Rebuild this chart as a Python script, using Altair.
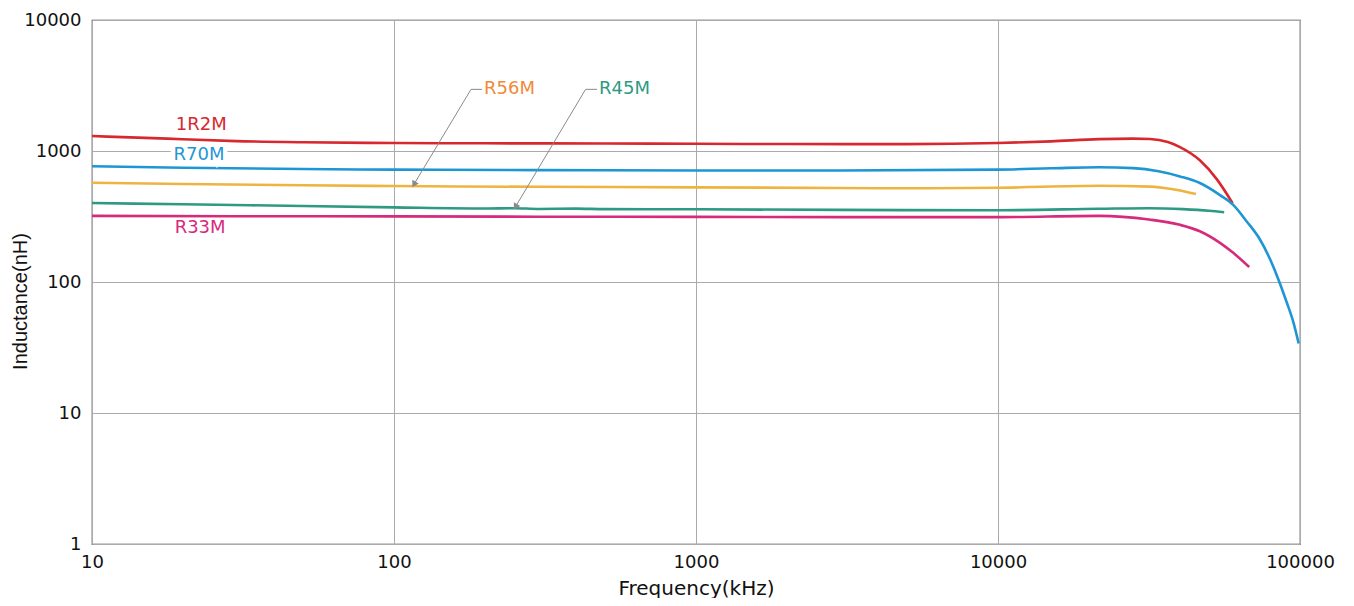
import altair as alt
import pandas as pd

# ---- data ----
red_f = [10, 15, 20, 30, 50, 100, 200, 500, 1000, 2000, 5000, 10000, 15000, 21600, 28000, 31860, 36500, 40050, 46600, 53000, 59800]
red_v = [1300, 1260, 1230, 1190, 1165, 1150, 1145, 1140, 1135, 1130, 1128, 1150, 1185, 1232, 1243, 1235, 1170, 1071, 849, 610, 400]

blue_f = [10, 20, 50, 100, 300, 1000, 3000, 10000, 15000, 21600, 28000, 34000, 40050, 46600, 54330, 60100, 66600, 73700, 79600, 84750, 90350, 95050, 99000]
blue_v = [764, 745, 728, 721, 715, 710, 710, 721, 738, 752, 740, 700, 640, 570, 461, 388, 290, 211, 149, 105, 70, 49.4, 33.9]

orange_f = [10, 20, 50, 100, 300, 1000, 3000, 5000, 10000, 21600, 31860, 38000, 45230]
orange_v = [572, 560, 548, 540, 533, 528, 522, 519, 524, 543, 535, 510, 469]

green_f = [10, 20, 50, 100, 200, 250, 300, 400, 500, 1000, 3000, 10000, 21600, 31600, 41000, 50000, 56100]
green_v = [401, 392, 380, 371, 364, 366, 361, 363, 360, 359, 355, 353, 362, 366, 360, 350, 341]

mag_f = [10, 30, 100, 300, 1000, 3000, 10000, 21600, 31600, 40050, 46600, 54330, 60100, 67900]
mag_v = [320, 318, 317, 315, 314, 313, 313, 320, 300, 273, 244, 199, 167, 130]

series_names = ["1R2M", "R70M", "R56M", "R45M", "R33M"]
line_colors = ["#d7282f", "#1f96d4", "#efb43f", "#2e9a83", "#d62a7d"]
text_colors = ["#d7282f", "#1f96d4", "#f08a3a", "#2e9a83", "#d62a7d"]

# label anchor positions (freq, inductance)
label_f = [23.0, 22.6, 198.6, 477.5, 22.8]
label_v = [1578, 925, 2955, 2955, 258]
label_align = ["center", "center", "left", "left", "center"]

# leader lines for R56M and R45M
leader_name = ["R56M", "R56M", "R56M", "R45M", "R45M", "R45M"]
leader_ord = [0, 1, 2, 0, 1, 2]
leader_f = [195.6, 179.9, 116.9, 470.0, 430.9, 253.5]
leader_v = [2955, 2955, 565, 2955, 2955, 381]

# ---- build tables ----
rows = []
for name, fs, vs in zip(series_names,
                        [red_f, blue_f, orange_f, green_f, mag_f],
                        [red_v, blue_v, orange_v, green_v, mag_v]):
    for f, v in zip(fs, vs):
        rows.append({"series": name, "freq": f, "ind": v})
lines_df = pd.DataFrame(rows)

labels_df = pd.DataFrame({"series": series_names, "freq": label_f, "ind": label_v,
                          "color": text_colors, "align": label_align})
leader_df = pd.DataFrame({"series": leader_name, "ord": leader_ord,
                          "freq": leader_f, "ind": leader_v})
tips_df = leader_df[leader_df["ord"] == 2]

FONT = "DejaVu Sans"

xscale = alt.Scale(type="log", domain=[10, 100000], nice=False)
yscale = alt.Scale(type="log", domain=[1, 10000], nice=False)

xaxis = alt.Axis(values=[10, 100, 1000, 10000, 100000], format="d", title="Frequency(kHz)",
                 grid=True, gridColor="#aaaaaa", gridWidth=1, ticks=False, domain=False,
                 labelFont=FONT, labelFontSize=18, labelColor="#111", labelPadding=9,
                 labelFlush=False, labelOverlap=False,
                 titleFont=FONT, titleFontSize=20, titleFontWeight="normal", titleColor="#111",
                 titlePadding=7)
yaxis = alt.Axis(values=[1, 10, 100, 1000, 10000], format="d", title="Inductance(nH)",
                 grid=True, gridColor="#aaaaaa", gridWidth=1, ticks=False, domain=False,
                 labelFont=FONT, labelFontSize=18, labelColor="#111", labelPadding=11,
                 labelFlush=False, labelOverlap=False,
                 titleFont="Liberation Sans", titleFontSize=20, titleFontWeight="normal",
                 titleColor="#111", titleX=-72, titleY=281, titleAngle=270,
                 titleAlign="center", titleBaseline="middle")

lines = alt.Chart(lines_df).mark_line(strokeWidth=2.6, interpolate="monotone").encode(
    x=alt.X("freq:Q", scale=xscale, axis=xaxis),
    y=alt.Y("ind:Q", scale=yscale, axis=yaxis),
    color=alt.Color("series:N", scale=alt.Scale(domain=series_names, range=line_colors), legend=None),
    detail="series:N",
)

leaders = alt.Chart(leader_df).mark_line(color="#8a8a8a", strokeWidth=1).encode(
    x=alt.X("freq:Q", scale=xscale),
    y=alt.Y("ind:Q", scale=yscale),
    detail="series:N",
    order="ord:Q",
)

tips = alt.Chart(tips_df).mark_point(shape="triangle", filled=True, size=55, angle=210,
                                     color="#8a8a8a", opacity=1).encode(
    x=alt.X("freq:Q", scale=xscale),
    y=alt.Y("ind:Q", scale=yscale),
)

halo = alt.Chart(labels_df[labels_df["series"] == "R70M"]).mark_text(
    font=FONT, fontSize=18, stroke="white", strokeWidth=9, fill="white", align="center", baseline="middle"
).encode(
    x=alt.X("freq:Q", scale=xscale),
    y=alt.Y("ind:Q", scale=yscale),
    text="series:N",
)

texts_c = alt.Chart(labels_df[labels_df["align"] == "center"]).mark_text(
    font=FONT, fontSize=18, align="center", baseline="middle"
).encode(
    x=alt.X("freq:Q", scale=xscale),
    y=alt.Y("ind:Q", scale=yscale),
    text="series:N",
    color=alt.Color("color:N", scale=None),
)

texts_l = alt.Chart(labels_df[labels_df["align"] == "left"]).mark_text(
    font=FONT, fontSize=18, align="left", baseline="middle"
).encode(
    x=alt.X("freq:Q", scale=xscale),
    y=alt.Y("ind:Q", scale=yscale),
    text="series:N",
    color=alt.Color("color:N", scale=None),
)

chart = alt.layer(lines, leaders, tips, halo, texts_c, texts_l).properties(
    width=1208, height=524,
    autosize=alt.AutoSizeParams(type="none"),
    padding={"left": 84, "top": 12, "right": 46, "bottom": 54},
    background="white",
).configure_view(stroke="#333333", strokeWidth=1.2)

chart.save("out.html", embed_options={"renderer": "svg", "actions": False})
